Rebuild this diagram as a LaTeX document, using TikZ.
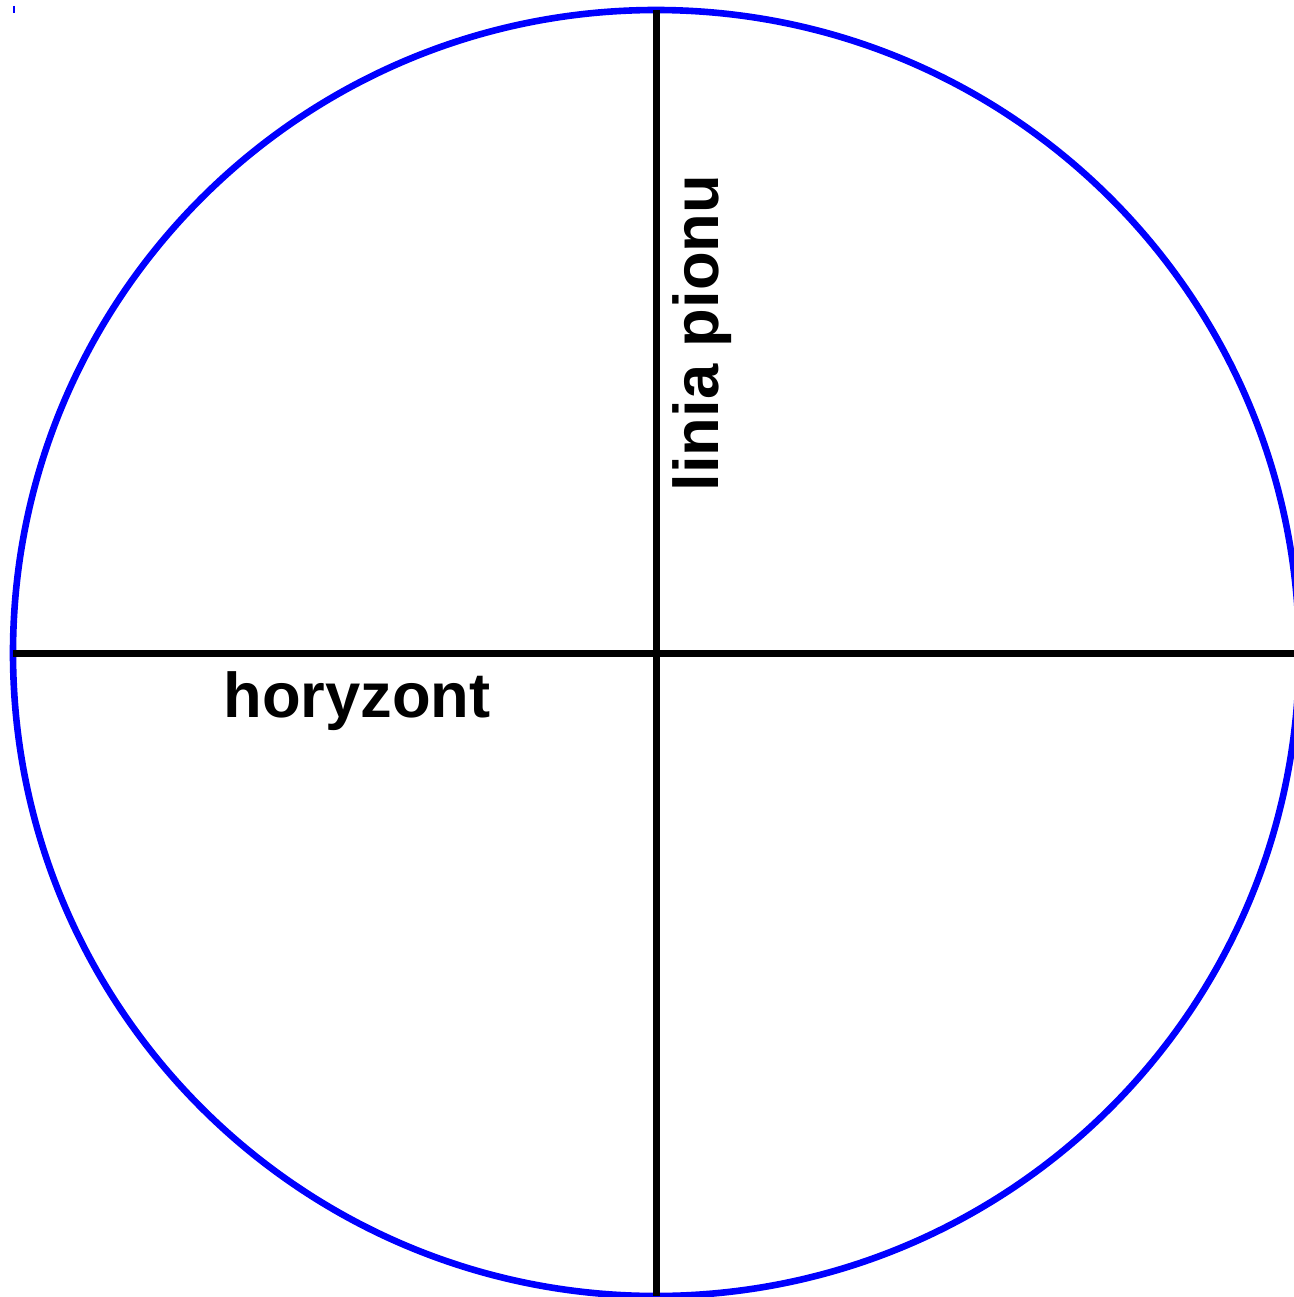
\documentclass[tikz,border=0pt]{standalone}
\usepackage{fontspec}
\setmainfont{Liberation Sans}
\usetikzlibrary{positioning}
\definecolor{RimBlue}{HTML}{0000FF}
\definecolor{AxisBlack}{HTML}{000000}
\tikzset{
  rim/.style={draw=RimBlue, line width=0.066cm},
  axis/.style={draw=AxisBlack, line width=0.07cm},
  tick/.style={draw=RimBlue, line width=0.02cm},
  caption/.style={inner sep=0pt, font=\bfseries\fontsize{18}{20}\selectfont},
}

\begin{document}
\begin{tikzpicture}[x=0.01cm,y=-0.01cm]
        \useasboundingbox (0,0) rectangle (1293,1297);
        \coordinate (centre) at (656,653);
        \coordinate (top) at (656,10);
        \coordinate (bottom) at (656,1296);
        \coordinate (left) at (13,653);
        \coordinate (right) at (1299,653);
        \draw[rim] (centre) circle[radius=643];
        \draw[axis] (left) -- (right);
        \draw[axis] (top) -- (bottom);
        \draw[tick] (14,6) -- (14,13);
        \node[caption, anchor=base] (horizon) at (357,717) {horyzont};
        \node[caption, anchor=base, rotate=90] (plumb) at (718,333) {linia pionu};
      \end{tikzpicture}
\end{document}
